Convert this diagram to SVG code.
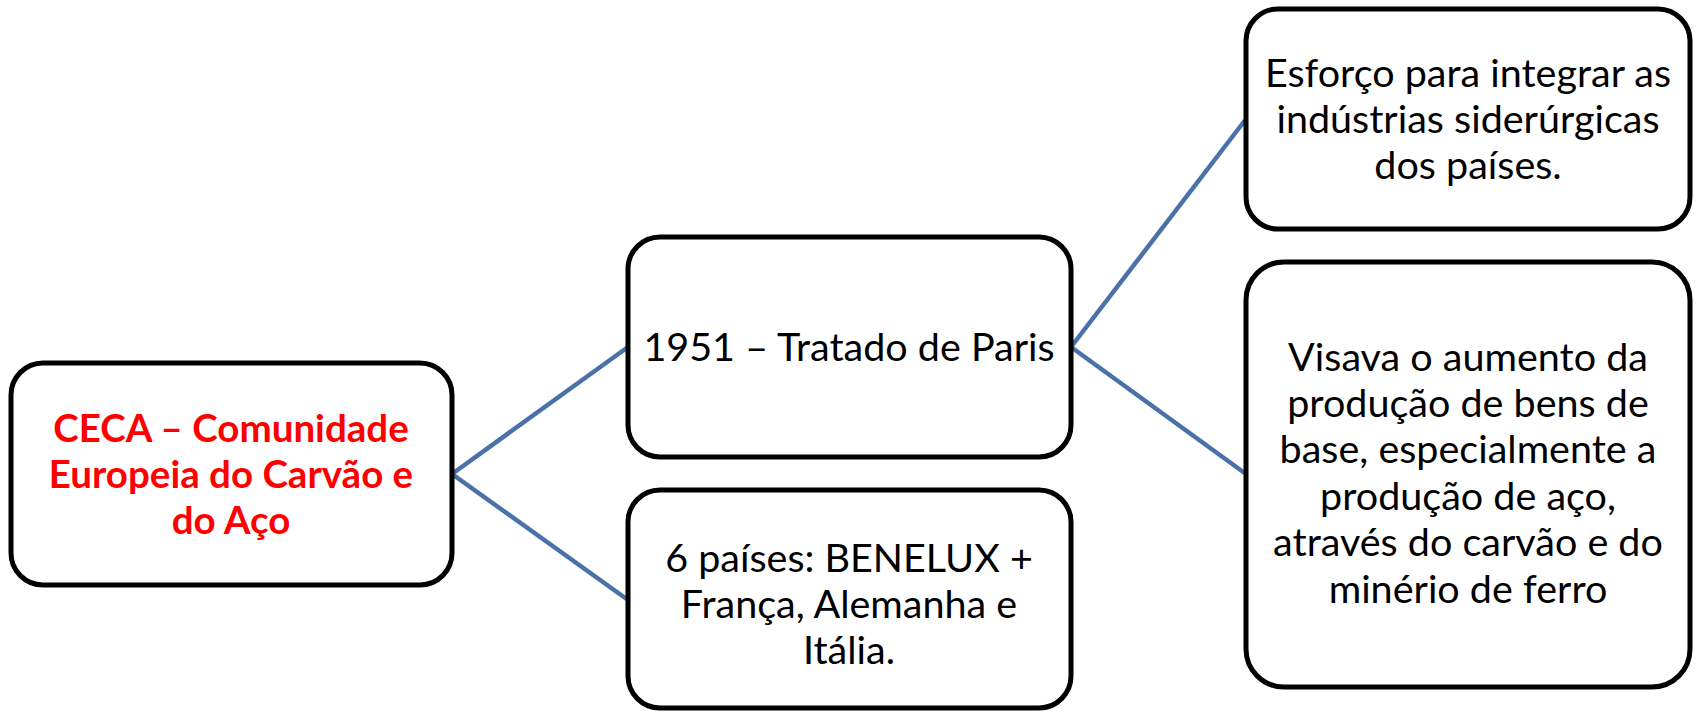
<svg xmlns="http://www.w3.org/2000/svg" width="1696" height="711" viewBox="0 0 1696 711">
<style>
.box{fill:#fff;stroke:#000;stroke-width:5}
.t{font-family:Lato,"Liberation Sans",sans-serif;font-size:39.5px;fill:#000;text-anchor:middle}
.r{fill:#ff0000;font-weight:bold;font-size:38.5px}
.c{stroke:#4a72a8;stroke-width:4.5;fill:none}
</style>
<rect width="1696" height="711" fill="#fff"/>
<g id="connectors">
<line class="c" x1="452" y1="474" x2="628" y2="347"/>
<line class="c" x1="452" y1="474" x2="628" y2="600"/>
<line class="c" x1="1071" y1="347" x2="1246" y2="119"/>
<line class="c" x1="1071" y1="347" x2="1246" y2="474"/>
</g>
<g id="ceca">
<rect class="box" x="11" y="363" width="441" height="222" rx="32"/>
<text class="t r" x="231" y="442">CECA – Comunidade</text>
<text class="t r" x="231" y="488">Europeia do Carvão e</text>
<text class="t r" x="231" y="534">do Aço</text>
</g>
<g id="tratado">
<rect class="box" x="628" y="237" width="443" height="220" rx="32"/>
<text class="t" x="849" y="361">1951 – Tratado de Paris</text>
</g>
<g id="paises">
<rect class="box" x="628" y="490" width="443" height="218" rx="32"/>
<text class="t" x="849" y="572">6 países: BENELUX +</text>
<text class="t" x="849" y="618">França, Alemanha e</text>
<text class="t" x="849" y="664">Itália.</text>
</g>
<g id="esforco">
<rect class="box" x="1246" y="9" width="444" height="220" rx="32"/>
<text class="t" x="1468" y="87">Esforço para integrar as</text>
<text class="t" x="1468" y="133">indústrias siderúrgicas</text>
<text class="t" x="1468" y="179">dos países.</text>
</g>
<g id="visava">
<rect class="box" x="1246" y="262" width="444" height="425" rx="38"/>
<text class="t" x="1468" y="371">Visava o aumento da</text>
<text class="t" x="1468" y="417">produção de bens de</text>
<text class="t" x="1468" y="463">base, especialmente a</text>
<text class="t" x="1468" y="510">produção de aço,</text>
<text class="t" x="1468" y="556">através do carvão e do</text>
<text class="t" x="1468" y="603">minério de ferro</text>
</g>
</svg>
